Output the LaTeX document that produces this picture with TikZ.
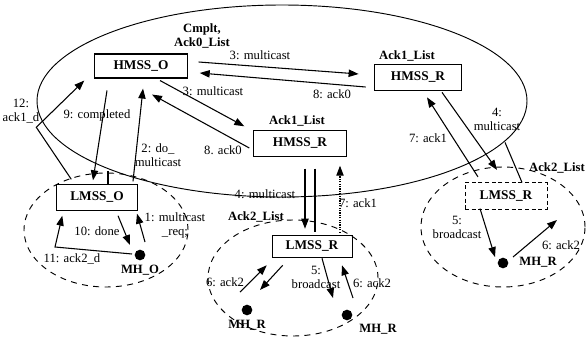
\documentclass[tikz,border=0pt]{standalone}
\usepackage{fontspec}
\setmainfont{Liberation Serif}
\usetikzlibrary{arrows.meta,calc}

\tikzset{
  box/.style={draw, line width=0.8pt, inner sep=0pt, minimum height=18pt, font=\bfseries\fontsize{10}{11}\selectfont},
  tag/.style={inner sep=0pt, align=center, font=\fontsize{9.5}{10.5}\selectfont},
  btag/.style={tag, font=\bfseries\fontsize{9.5}{10.5}\selectfont},
  host/.style={circle, fill, inner sep=0pt, minimum size=8pt},
  arr/.style={line width=0.8pt, -{Triangle[length=7.5pt,width=5.5pt]}},
  grp/.style={line width=0.7pt, dash pattern=on 4.5pt off 4pt},
}

\begin{document}
\begin{tikzpicture}[x=0.75pt, y=-0.75pt]
  \useasboundingbox (0,0) rectangle (588,339);

  % domains
  \draw[line width=0.7pt] (282,101) ellipse [x radius=183.75pt, y radius=72pt];
  \foreach \cx/\cy/\rx/\ry in {106/230/61.5/42.75, 293/278/63.75/43.5, 503/227/61.5/45} {
    \draw[grp] (\cx,\cy) ellipse [x radius=\rx pt, y radius=\ry pt];
  }

  % stations
  \node[box, minimum width=70pt] (hmsso) at (141,66) {HMSS\_O};
  \node[box, minimum width=65pt, minimum height=20pt] (hmssr1) at (418,77.5) {HMSS\_R};
  \node[box, minimum width=70pt, minimum height=19pt] (hmssr2) at (300,143.5) {HMSS\_R};
  \node[box, minimum width=61pt, minimum height=19pt] (lmsso) at (97,197.5) {LMSS\_O};
  \node[box, thin, minimum width=60pt, minimum height=16.5pt] (lmssr2) at (312,246) {LMSS\_R};
  \node[box, thin, densely dashed, minimum width=61.5pt, minimum height=20pt] (lmssr1) at (506,196) {LMSS\_R};

  \node[host] (mho) at (140,255) {};
  \node[host] (mhr2a) at (247,310) {};
  \node[host] (mhr2b) at (347,315) {};
  \node[host] (mhr1) at (503,263) {};

  % lists and hosts
  \node[btag] (cmplt) at (202,36) {Cmplt,\\Ack0\_List};
  \node[btag] (lista) at (407,56) {Ack1\_List};
  \node[btag] (listb) at (297,121) {Ack1\_List};
  \node[btag] (listc) at (557,168) {Ack2\_List};
  \node[btag] (listd) at (256,217) {Ack2\_List};
  \node[btag] (nmho) at (140,270) {MH\_O};
  \node[btag] (nmhra) at (247,325) {MH\_R};
  \node[btag] (nmhrb) at (378,329) {MH\_R};
  \node[btag] (nmhrc) at (538,262) {MH\_R};

  % messages
  \draw[arr] ($(hmsso.east)+(10.5,-4)$) -- ($(hmssr1.west)+(-15.5,-3.5)$);
  \draw[arr] ($(hmssr1.west)+(-8.5,9.5)$) -- ($(hmsso.east)+(11.5,7)$);
  \draw[arr] ($(hmsso.south)+(19,2)$) -- ($(hmssr2.north west)+(-8.5,-4)$);
  \draw[arr] ($(hmssr2.west)+(-3.5,4.5)$) -- ($(hmsso.south)+(11,16)$);
  \draw[arr] ($(lmsso.north)+(36,-3)$) -- ($(hmsso.south)+(2,10)$);
  \draw[arr] ($(hmsso.south)+(-34,12)$) -- ($(lmsso.north)+(-4,-4)$);
  \draw[arr] ($(lmsso.north west)+(15.5,-5)$) -- ++(-35,-52) -- ($(hmsso.south west)+(-9.5,2)$);
  \draw[line width=0.8pt] ($(lmsso.north)+(11,0)$) -- ++(0,-13);

  \draw[arr] ($(hmssr2.south)+(5,12)$) -- ($(lmssr2.north)+(-7,-6)$);
  \draw[line width=0.8pt] ($(hmssr2.south)+(15,12)$) -- ($(lmssr2.north)+(3,-3)$);
  \draw[arr, densely dotted] ($(lmssr2.north)+(28,-2)$) -- ($(hmssr2.south)+(40,9)$);

  \draw[arr] ($(hmssr1.south)+(24,1)$) -- ($(lmssr1.north)+(-9,-12.5)$);
  \draw[arr] ($(lmssr1.north)+(-28,-5.5)$) -- ($(hmssr1.south)+(9,6)$);
  \draw[line width=0.8pt] ($(lmssr1.north)+(16,0)$) -- ++(-17,-40);

  \draw[arr] ($(lmssr1.south)+(-26,-1)$) -- ($(mhr1)+(-8,-6)$);
  \draw[arr] ($(mhr1)+(10,-6)$) -- ++(44,-37);

  \draw[arr] ($(mhr2a)+(-7,-18)$) -- ($(lmssr2.south west)+(-5,8)$);
  \draw[arr] ($(lmssr2.south west)+(11,8)$) -- ($(mhr2a)+(13,-20)$);
  \draw[arr] ($(lmssr2.south)+(10,1)$) -- ($(mhr2b)+(-14,-17)$);
  \draw[arr] ($(mhr2b)+(6,-17)$) -- ($(lmssr2.south)+(30,8)$);

  \draw[arr] ($(lmsso.south)+(21,5)$) -- ($(mho)+(-10,-10)$);
  \draw[arr] ($(mho)+(5,-13)$) -- ($(lmsso.south)+(40,3)$);
  \draw[arr] ($(mho)+(-8,-1)$) -- ++(-77,-7) -- ($(lmsso.south west)+(6.5,5)$);

  % message labels
  \node[tag] (ma) at (260,55) {3: multicast};
  \node[tag] (ka) at (332,94) {8: ack0};
  \node[tag] (mb) at (213,91) {3: multicast};
  \node[tag] (kb) at (223,150) {8. ack0};
  \node[tag] (kc) at (21,111) {12:\\ack1\_d};
  \node[tag] (cd) at (97,115) {9: completed};
  \node[tag] (md) at (158,155) {2: do\_\\multicast};
  \node[tag] (me) at (265,194) {4: multicast};
  \node[tag] (ke) at (358,203) {7: ack1};
  \node[tag] (mf) at (497,119) {4:\\multicast};
  \node[tag] (kf) at (428,138) {7: ack1};
  \node[tag] (mg) at (175,225) {1: multicast\\\_req;};
  \node[tag] (dg) at (97,231) {10: done};
  \node[tag] (kg) at (72,259) {11: ack2\_d};
  \node[tag] (kh) at (225,282) {6: ack2};
  \node[tag] (bh) at (316,277) {5:\\broadcast};
  \node[tag] (ki) at (372,283) {6: ack2};
  \node[tag] (bj) at (457,227) {5:\\broadcast};
  \node[tag] (kj) at (561,245) {6: ack2};
\end{tikzpicture}
\end{document}
